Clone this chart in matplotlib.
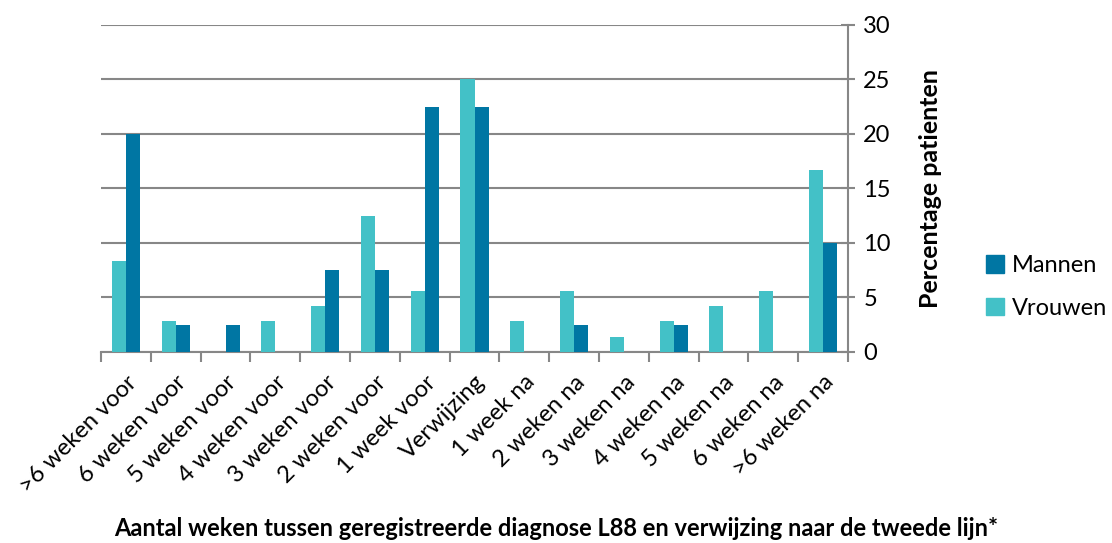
import numpy as np
import matplotlib.pyplot as plt
from matplotlib.patches import Patch

plt.rcParams['font.family'] = ['Lato', 'DejaVu Sans']

categories = ['>6 weken voor', '6 weken voor', '5 weken voor', '4 weken voor',
              '3 weken voor', '2 weken voor', '1 week voor', 'Verwijzing',
              '1 week na', '2 weken na', '3 weken na', '4 weken na',
              '5 weken na', '6 weken na', '>6 weken na']
vrouwen = [8.3, 2.8, 0, 2.8, 4.2, 12.5, 5.6, 25.0, 2.8, 5.6, 1.4, 2.8, 4.2, 5.6, 16.7]
mannen = [20.0, 2.5, 2.5, 0, 7.5, 7.5, 22.5, 22.5, 0, 2.5, 0, 2.5, 0, 0, 10.0]

C_MAN = '#0076A3'
C_VROUW = '#43C1C7'
GRID = '#878787'
FS = 17

fig = plt.figure(figsize=(11.12, 5.43), dpi=100)
ax = fig.add_axes([101 / 1112, 1 - 352 / 543, 747 / 1112, (352 - 24.7) / 543])

x = np.arange(len(categories))
w = 0.285
ax.bar(x - w / 2, vrouwen, w, color=C_VROUW, zorder=3)
ax.bar(x + w / 2, mannen, w, color=C_MAN, zorder=3)

ax.set_xlim(-0.5, len(categories) - 0.5)
ax.set_ylim(0, 30)
ax.set_yticks(range(0, 31, 5))
ax.yaxis.tick_right()
ax.yaxis.set_label_position('right')
ax.grid(axis='y', color=GRID, linewidth=1.5, zorder=0)
for s in ['top', 'left']:
    ax.spines[s].set_visible(False)
for s in ['right', 'bottom']:
    ax.spines[s].set_color(GRID)
    ax.spines[s].set_linewidth(1.5)
ax.tick_params(axis='y', direction='inout', length=10, width=1.5, color=GRID,
               labelsize=FS, pad=6)

ax.set_xticks(x)
ax.set_xticklabels(categories, rotation=45, ha='right', rotation_mode='anchor',
                   fontsize=FS)
ax.tick_params(axis='x', length=0, pad=14)
ax.set_xticks(np.arange(-0.5, len(categories), 1), minor=True)
ax.tick_params(axis='x', which='minor', length=7, width=1.5, color=GRID)

ax.set_ylabel('Percentage patienten', fontsize=18, fontweight='bold', labelpad=20)

fig.text(0.5, 1 - 528 / 543, 'Aantal weken tussen geregistreerde diagnose L88 en verwijzing naar de tweede lijn*',
         ha='center', va='center', fontsize=FS, fontweight='bold')

handles = [Patch(color=C_MAN, label='Mannen'), Patch(color=C_VROUW, label='Vrouwen')]
fig.legend(handles=handles, loc='center left', bbox_to_anchor=(986 / 1112, 1 - 287 / 543),
           frameon=False, fontsize=FS, handlelength=0.75, handleheight=0.75,
           handletextpad=0.35, labelspacing=0.9, borderpad=0, borderaxespad=0)

plt.savefig('out.png', dpi=100)
plt.close()
